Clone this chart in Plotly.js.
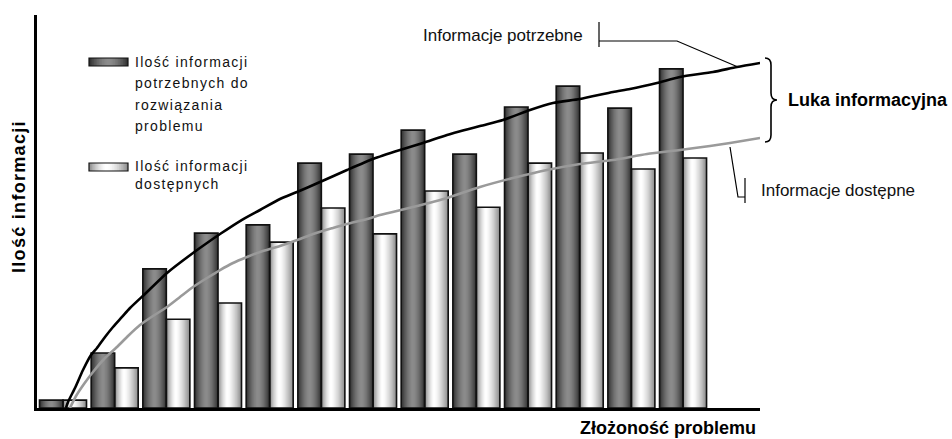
<!DOCTYPE html>
<html><head><meta charset="utf-8">
<script src="https://cdn.plot.ly/plotly-3.0.1.min.js"></script>
<style>html,body{margin:0;padding:0;background:#fff}</style>
</head><body>
<div id="chart" style="width:952px;height:439px"></div>
<script>
// ---------- DATA ----------
const groups = [1,2,3,4,5,6,7,8,9,10,11,12,13];
const neededInfo    = [2.0, 14.0, 35.4, 44.5, 46.6, 62.3, 64.6, 70.7, 64.6, 76.6, 81.9, 76.3, 86.3];
const availableInfo = [2.0, 10.2, 22.6, 26.7, 42.2, 50.9, 44.3, 55.2, 51.1, 62.3, 64.9, 60.8, 63.6];

const neededCurveX = [1.058,1.097,1.232,1.387,1.542,1.658,1.813,1.968,2.142,2.297,2.626,3.013,3.516,3.787,4.039,4.426,4.813,5.200,5.529,5.974,6.496,6.999,7.522,7.967,8.432,9.070,9.516,10.038,10.483,11.006,11.645,11.974,12.496,12.941,13.580,14.045,14.490];
const neededCurveY = [0,1.53,5.09,9.67,13.49,15.27,18.07,20.61,23.16,25.45,29.52,34.35,39.44,41.98,44.27,47.58,50.38,53.18,54.96,57.51,60.56,63.36,65.65,67.43,69.47,71.76,73.28,75.83,77.61,78.63,80.41,81.17,82.70,84.22,85.50,86.77,87.79];

const availableCurveX = [1.135,1.252,1.406,1.581,1.813,2.045,2.258,2.490,2.742,3.013,3.264,3.516,3.787,4.039,4.290,4.561,4.813,5.200,5.587,5.838,6.225,6.496,6.884,7.135,7.774,8.432,9.070,9.709,10.367,11.006,11.645,12.303,12.941,13.522,13.909,14.490];
const availableCurveY = [0,3.05,6.11,9.16,12.72,15.52,18.32,21.12,23.41,25.70,28.24,30.79,33.08,35.11,36.90,38.42,39.69,41.22,43.00,44.27,45.80,46.82,48.09,49.11,51.15,53.44,56.23,58.52,60.56,62.09,63.10,64.63,65.65,66.67,67.43,68.70];

const legendNeededLines = ["Ilość informacji", "potrzebnych do", "rozwiązania", "problemu"];
const legendAvailableLines = ["Ilość informacji", "dostępnych"];
const xTitle = "Złożoność problemu";
const yTitle = "Ilość informacji";
const labelNeeded = "Informacje potrzebne";
const labelAvailable = "Informacje dostępne";
const labelGap = "Luka informacyjna";

// ---------- GEOMETRY / STYLE ----------
const FONT = "Liberation Sans, Arial, Helvetica, sans-serif";
const PL = 37, PR = 760, PT = 15, PB = 408;
const px = x => (x - PL) / (PR - PL);
const py = y => (PB - y) / (PB - PT);
const BW = 0.455;           // bar width in group units
const NL = 12;              // gradient layers

function mix(a, b, t) {
  const c = a.map((v, i) => Math.round(v + (b[i] - v) * t));
  return `rgb(${c[0]},${c[1]},${c[2]})`;
}
const darkEdge = [45,45,45], darkCenter = [140,140,140];
const lightEdge = [135,135,135], lightCenter = [255,255,255];

const traces = [];
for (let k = 0; k < NL; k++) {
  const s = 1 - k / NL, sNext = 1 - (k + 1) / NL;
  const d = (s + sNext) / 2;
  traces.push({type:'bar', x: groups, y: neededInfo, width: BW * s,
    offset: -BW/2 - (BW/2) * s,
    marker:{color: mix(darkCenter, darkEdge, Math.pow(d, 1.6)), line:{width:0}},
    hoverinfo:'skip', showlegend:false});
}
for (let k = 0; k < NL; k++) {
  const s = 1 - k / NL, sNext = 1 - (k + 1) / NL;
  const d = (s + sNext) / 2;
  traces.push({type:'bar', x: groups, y: availableInfo, width: BW * s,
    offset: 0.4*BW - 0.4*BW*s,
    marker:{color: mix(lightCenter, lightEdge, Math.pow(d, 1.5)), line:{width:0}},
    hoverinfo:'skip', showlegend:false});
}
traces.push({type:'bar', x: groups, y: neededInfo, width: BW, offset: -BW,
  marker:{color:'rgba(0,0,0,0)', line:{color:'#111', width:1.6}}, hoverinfo:'skip', showlegend:false});
traces.push({type:'bar', x: groups, y: availableInfo, width: BW, offset: 0,
  marker:{color:'rgba(0,0,0,0)', line:{color:'#111', width:1.6}}, hoverinfo:'skip', showlegend:false});
traces.push({type:'scatter', mode:'lines', x: availableCurveX, y: availableCurveY,
  line:{color:'#9a9a9a', width:2.6, shape:'spline', smoothing:0.6}, hoverinfo:'skip', showlegend:false});
traces.push({type:'scatter', mode:'lines', x: neededCurveX, y: neededCurveY,
  line:{color:'#000', width:2.6, shape:'spline', smoothing:0.6}, hoverinfo:'skip', showlegend:false});

// ---------- SHAPES ----------
const shapes = [];
const lineStyle = {color:'#000', width:1.2};
function pathPx(pts) {
  return pts.map((p, i) => (i ? 'L' : 'M') + px(p[0]).toFixed(5) + ',' + py(p[1]).toFixed(5)).join(' ');
}
shapes.push({type:'path', xref:'paper', yref:'paper', path: pathPx([[599,22],[599,47]]), line: lineStyle});
shapes.push({type:'path', xref:'paper', yref:'paper', path: pathPx([[599,41],[677,41],[738,67]]), line: lineStyle});
shapes.push({type:'path', xref:'paper', yref:'paper', path: pathPx([[730,147],[738,197],[745,197]]), line: lineStyle});
shapes.push({type:'path', xref:'paper', yref:'paper', path: pathPx([[745,178],[745,203]]), line: lineStyle});
(function(){
  const P = (x,y) => px(x).toFixed(5) + ',' + py(y).toFixed(5);
  const path = 'M' + P(765,58) + ' Q' + P(771,58) + ' ' + P(771,65) +
    ' L' + P(771,93) + ' Q' + P(771,100) + ' ' + P(777,100) +
    ' Q' + P(771,100) + ' ' + P(771,107) + ' L' + P(771,135) +
    ' Q' + P(771,142) + ' ' + P(765,142);
  shapes.push({type:'path', xref:'paper', yref:'paper', path: path, line:{color:'#000', width:1.6}});
})();
function legendSymbol(x0, x1, y0, y1, edge, center, peak) {
  const pk = x0 + (x1 - x0) * peak;
  for (let k = 0; k < NL; k++) {
    const s = 1 - k / NL, sNext = 1 - (k + 1) / NL;
    const d = (s + sNext) / 2;
    shapes.push({type:'rect', xref:'paper', yref:'paper',
      x0: px(pk - (pk - x0) * s), x1: px(pk + (x1 - pk) * s), y0: py(y1), y1: py(y0),
      fillcolor: mix(center, edge, Math.pow(d, 1.6)), line:{width:0}});
  }
  shapes.push({type:'rect', xref:'paper', yref:'paper', x0: px(x0), x1: px(x1), y0: py(y1), y1: py(y0),
    fillcolor:'rgba(0,0,0,0)', line:{color:'#111', width:1.2}});
}
legendSymbol(89, 128, 58, 66, darkEdge, darkCenter, 0.5);
legendSymbol(89, 128, 163, 171, lightEdge, lightCenter, 0.45);

// ---------- ANNOTATIONS ----------
const annotations = [];
const legendYs1 = [62, 83.5, 105, 126];
legendNeededLines.forEach((t, i) => annotations.push({xref:'paper', yref:'paper', x: px(133), y: py(legendYs1[i]),
  xanchor:'left', yanchor:'middle', text: t, showarrow:false, font:{family:FONT, size:14, color:'#111'}}));
const legendYs2 = [166, 184];
legendAvailableLines.forEach((t, i) => annotations.push({xref:'paper', yref:'paper', x: px(133), y: py(legendYs2[i]),
  xanchor:'left', yanchor:'middle', text: t, showarrow:false, font:{family:FONT, size:14, color:'#111'}}));
annotations.push({xref:'paper', yref:'paper', x: px(421), y: py(35), xanchor:'left', yanchor:'middle',
  text: labelNeeded, showarrow:false, font:{family:FONT, size:17, color:'#111'}});
annotations.push({xref:'paper', yref:'paper', x: px(759), y: py(190), xanchor:'left', yanchor:'middle',
  text: labelAvailable, showarrow:false, font:{family:FONT, size:17, color:'#111'}});
annotations.push({xref:'paper', yref:'paper', x: px(786), y: py(100), xanchor:'left', yanchor:'middle',
  text: '<b>' + labelGap + '</b>', showarrow:false, font:{family:FONT, size:18, color:'#000'}});
annotations.push({xref:'paper', yref:'paper', x: px(668), y: py(428), xanchor:'center', yanchor:'middle',
  text: '<b>' + xTitle + '</b>', showarrow:false, font:{family:FONT, size:18, color:'#000'}});
annotations.push({xref:'paper', yref:'paper', x: px(19), y: py(207), xanchor:'center', yanchor:'middle',
  textangle:-90, text: '<b>' + yTitle + '</b>', showarrow:false, font:{family:FONT, size:18, color:'#000'}});

const layout = {
  width: 952, height: 439,
  margin: {l: PL, r: 952 - PR, t: PT, b: 439 - PB, pad: 0},
  paper_bgcolor: '#fff', plot_bgcolor: '#fff',
  barmode: 'overlay',
  showlegend: false,
  font: {family: FONT},
  xaxis: {range: [1 + (PL - 63) / 51.67, 1 + (PR - 63) / 51.67], showline: true, linewidth: 3, linecolor: '#000',
    showticklabels: false, ticks: '', showgrid: false, zeroline: false, fixedrange: true},
  yaxis: {range: [0, 100], showline: true, linewidth: 3, linecolor: '#000',
    showticklabels: false, ticks: '', showgrid: false, zeroline: false, fixedrange: true},
  shapes: shapes,
  annotations: annotations
};

Plotly.newPlot('chart', traces, layout, {displayModeBar: false, staticPlot: true}).then(() => {
  const legendTexts = new Set(legendNeededLines.concat(legendAvailableLines));
  document.querySelectorAll('.annotation-text').forEach(el => {
    if (!legendTexts.has(el.textContent)) return;
    const bb = el.getBBox();
    el.setAttribute('text-anchor', 'start');
    el.style.textAnchor = 'start';
    el.setAttribute('x', bb.x);
    el.querySelectorAll('tspan').forEach(t => { if (t.hasAttribute('x')) t.setAttribute('x', bb.x); });
    el.style.letterSpacing = '1.3px';
  });
});
</script>
</body></html>
